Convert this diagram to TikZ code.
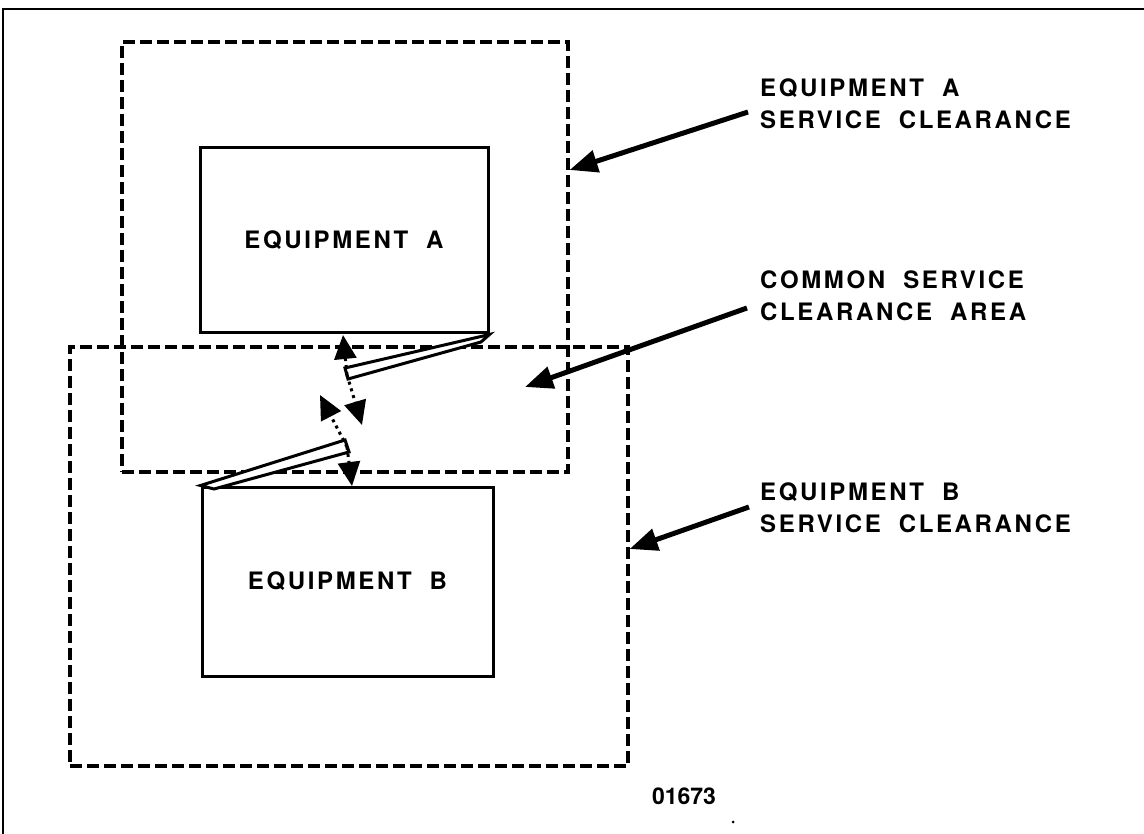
\documentclass[tikz,border=0pt]{standalone}
\usepackage{fontspec}
\setmainfont{TeX Gyre Heros}
\newfontfamily\lblfont[LetterSpace=11]{TeX Gyre Heros}
\usetikzlibrary{arrows.meta,positioning}

\newcommand\gap{\hspace{18pt}}

\begin{document}
\begin{tikzpicture}[x=1pt,y=-1pt,
    font=\lblfont\bfseries\fontsize{24}{32}\selectfont,
    >={Triangle[length=28pt,width=22pt]},
    equip/.style={draw,line width=3pt,inner sep=0pt},
    clearance/.style={draw,line width=3.2pt,dash pattern=on 12pt off 5pt,inner sep=0pt},
    door/.style={line width=3pt,fill=white,line join=miter},
    swing/.style={->,>={Triangle[length=24pt,width=22pt]},line width=3pt,dash pattern=on 3pt off 4pt},
    leader/.style={->,line width=5pt},
    note/.style={anchor=west,align=left,inner sep=0pt}]

  \useasboundingbox (0,0) rectangle (1144,834);
  \draw[line width=2pt] (3,834) -- (3,9) -- (1144,9);

  % service clearances
  \node[clearance,minimum width=446pt,minimum height=430pt] (clrA) at (345,257) {};
  \node[clearance,minimum width=558pt,minimum height=419pt] (clrB) at (349,556.5) {};

  % the two units
  \node[equip,minimum width=288pt,minimum height=185pt] (eqA) at (344,240.5) {EQUIPMENT\gap A};
  \node[equip,minimum width=291pt,minimum height=189pt] (eqB) at (347.5,581.5) {EQUIPMENT\gap B};

  % open doors
  \draw[door] (eqA.south east) -- (345,368) -- (348,379) -- (481,342) -- cycle;
  \draw[door] (eqB.north west) -- (345,440) -- (349,452) -- (214,489) -- cycle;
  \coordinate (tipA) at (347,375);
  \coordinate (tipB) at (347,447);

  % door swings
  \coordinate (swA1) at (343,335);
  \coordinate (swA2) at (362,425);
  \coordinate (swB1) at (320,395);
  \coordinate (swB2) at (352,486);
  \draw[swing] (tipA) -- (swA1);
  \draw[swing] (tipA) -- (swA2);
  \draw[swing] (tipB) -- (swB1);
  \draw[swing] (tipB) -- (swB2);

  % callouts
  \node[note] (labA) at (760,104) {EQUIPMENT\gap A\\SERVICE\gap CLEARANCE};
  \node[note] (labC) at (760,296) {COMMON\gap SERVICE\\CLEARANCE\gap AREA};
  \node[note] (labB) at (760,508) {EQUIPMENT\gap B\\SERVICE\gap CLEARANCE};
  \coordinate (common) at (525,387);

  \draw[leader] ([shift={(-12,8)}]labA.west) -- (clrA.east |- 0,170);
  \draw[leader] ([shift={(-13,12)}]labC.west) -- (common);
  \draw[leader] ([shift={(-11,-1)}]labB.west) -- (clrB.east |- 0,549);

  \node[font=\normalfont\bfseries\fontsize{23}{28}\selectfont] (fig) at (684,796) {01673};
  \fill (733,822) circle (1.5pt);
\end{tikzpicture}
\end{document}
